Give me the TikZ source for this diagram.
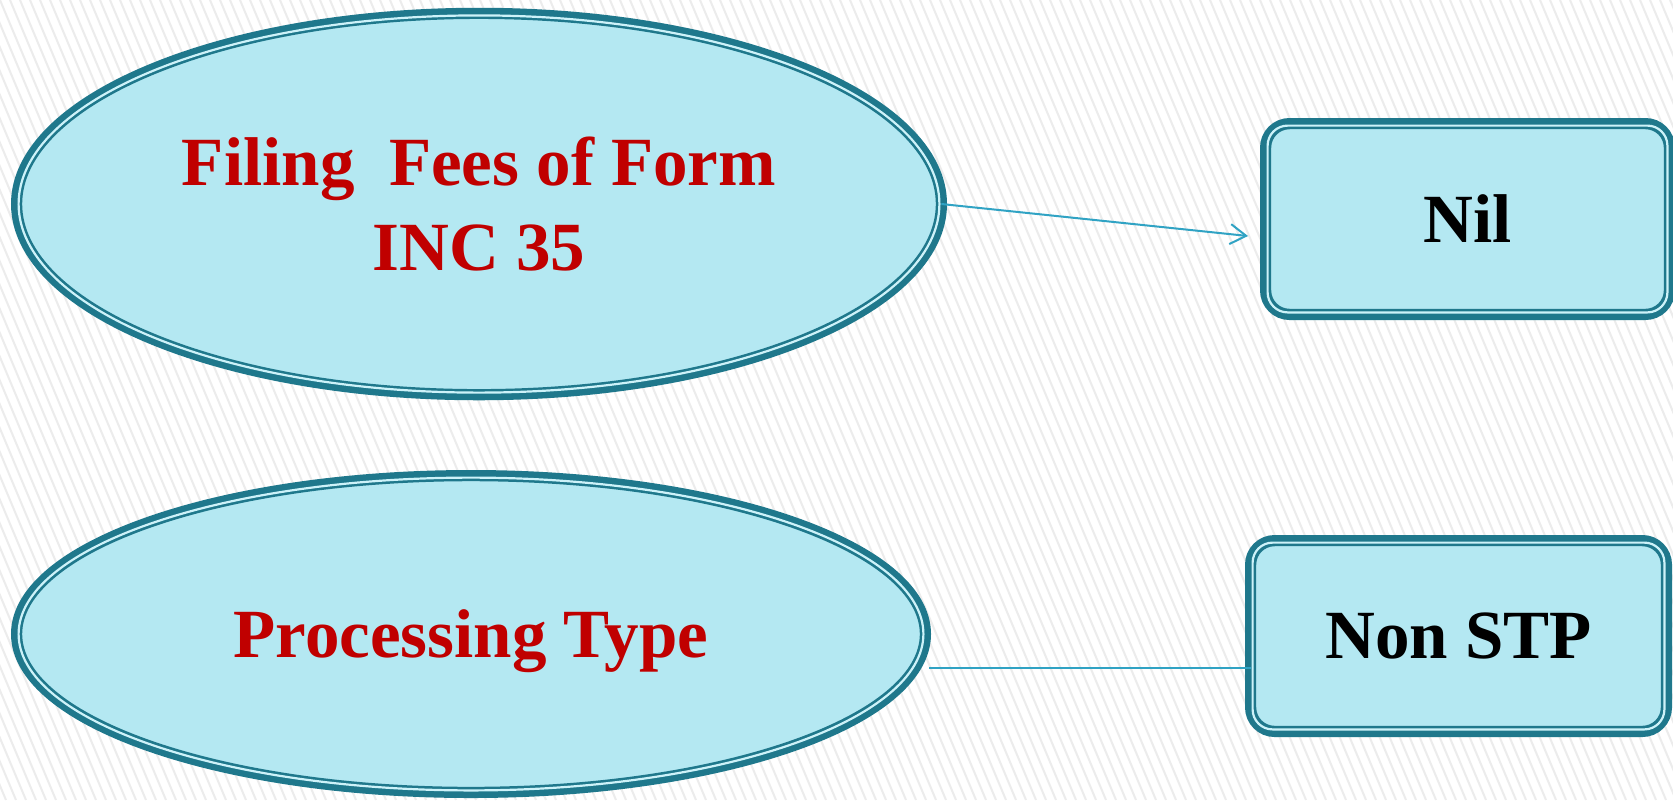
\documentclass[tikz,border=0pt]{standalone}
\usepackage{fontspec}
\setmainfont{Liberation Serif}
\usetikzlibrary{shapes.geometric,arrows.meta}
\definecolor{tealline}{RGB}{31,120,140}
\definecolor{fillc}{RGB}{180,232,242}
\definecolor{gapc}{RGB}{205,242,249}
\definecolor{redt}{RGB}{192,0,0}
\definecolor{linkc}{RGB}{48,163,196}
\definecolor{stripe}{RGB}{236,236,236}
\begin{document}
\begin{tikzpicture}[x=0.5pt,y=-0.5pt,
  shapebase/.style={draw=tealline,fill=fillc,line width=5.6pt,inner sep=0pt,outer sep=0pt,
    font=\bfseries\fontsize{34.5}{42.5}\selectfont,align=center},
  oval/.style={shapebase,ellipse,text=redt},
  box/.style={shapebase,rectangle,rounded corners=12pt,text=black},
  gapline/.style={draw=gapc,line width=1.1pt},
  link/.style={draw=linkc,line width=1pt},
  stripeline/.style={draw=stripe,line width=1pt}]
\path[use as bounding box] (0,0) rectangle (1673,800);
\begin{scope}
  \clip (0,0) rectangle (1673,800);
  \fill[white] (0,0) rectangle (1673,800);
  \foreach \i in {-40,...,170} \draw[stripeline] (\i*10,0) -- (\i*10+336,800);
\end{scope}

\node[oval,minimum width=462.4pt,minimum height=190.65pt] (e1) at (479,204) {Filing\ \ Fees of Form\\INC 35};
\draw[gapline] (e1.center) ellipse [x radius=230.2pt, y radius=94.3pt];

\node[oval,minimum width=454.4pt,minimum height=158.4pt,text depth=0pt] (e2) at (471,634) {Processing Type};
\draw[gapline] (e2.center) ellipse [x radius=226.2pt, y radius=78.2pt];

\node[box,minimum width=201.9pt,minimum height=95.4pt] (b1) at (1467.5,219) {Nil};
\draw[gapline,rounded corners=10pt] ([shift={(2,2)}]b1.north west) rectangle ([shift={(-2,-2)}]b1.south east);

\node[box,minimum width=207.9pt,minimum height=95.4pt] (b2) at (1458.5,636) {Non STP};
\draw[gapline,rounded corners=10pt] ([shift={(2,2)}]b2.north west) rectangle ([shift={(-2,-2)}]b2.south east);

\coordinate (a1e) at (1248,236);
\coordinate (c2s) at (929,668);
\draw[link,-{Straight Barb[length=8pt,width=10pt]}] (e1.east) -- (a1e);
\draw[link] (c2s) -- (c2s -| b2.west);
\end{tikzpicture}
\end{document}
